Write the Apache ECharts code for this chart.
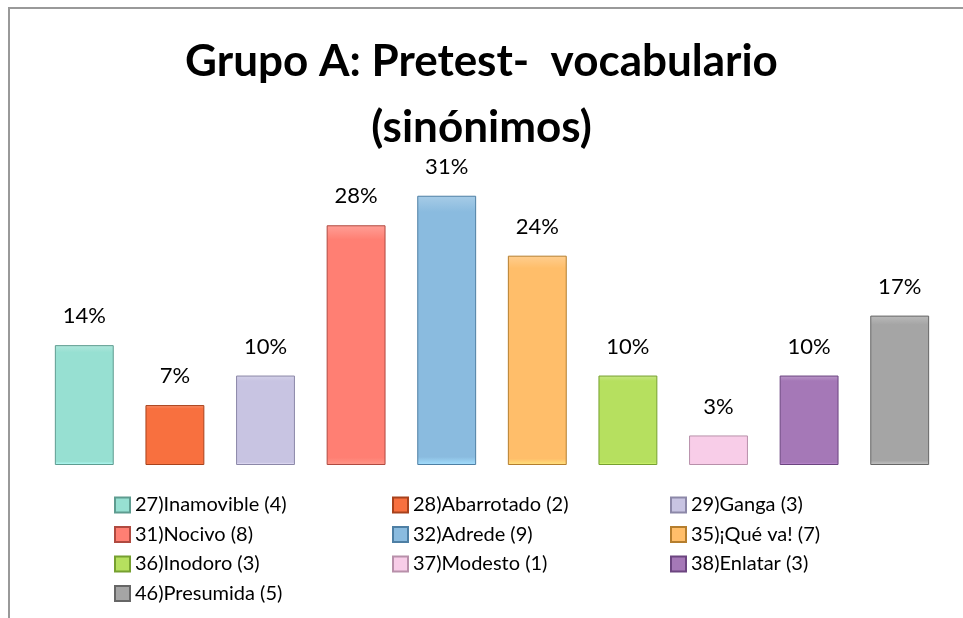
<!DOCTYPE html>
<html>
<head>
<meta charset="utf-8">
<script src="https://cdn.jsdelivr.net/npm/echarts@6/dist/echarts.min.js"></script>
<style>
  html, body { margin: 0; padding: 0; background: #fff; }
  #main { width: 963px; height: 618px; }
</style>
</head>
<body>
<div id="main"></div>
<script>
// categories (legend names) and percentage values
const items = [
  '27)Inamovible (4)', '28)Abarrotado (2)', '29)Ganga (3)',
  '31)Nocivo (8)', '32)Adrede (9)', '35)¡Qué va! (7)',
  '36)Inodoro (3)', '37)Modesto (1)', '38)Enlatar (3)',
  '46)Presumida (5)'
];
const percents = [13.8, 6.9, 10.3, 27.6, 31.0, 24.1, 10.3, 3.4, 10.3, 17.2];
const colors = ['#97E0D2', '#F8703F', '#C8C4E2', '#FF7F73', '#8ABBDF', '#FFBE6A', '#B6E05F', '#F8CDE8', '#A578B7', '#A5A5A5'];
const borders = ['#5E9C90', '#A8421C', '#8C88A8', '#B04A40', '#4E7FA4', '#B57E2E', '#76A030', '#B890AA', '#6C4580', '#666666'];

// legend columns, as laid out in the picture
const legendCols = [
  [items[0], items[3], items[6], items[9]],
  [items[1], items[4], items[7]],
  [items[2], items[5], items[8]]
];
const legendLeft = [109, 387, 665];

const chart = echarts.init(document.getElementById('main'));

const series = items.map((name, i) => ({
  name: name,
  type: 'bar',
  stack: 'one',
  barWidth: '65%',
  data: percents.map((v, j) => (j === i ? v : '-')),
  itemStyle: {
    color: {
      type: 'linear', x: 0, y: 0, x2: 0, y2: 1,
      colorStops: [
        { offset: 0, color: echarts.color.lift(colors[i], 0.25) },
        { offset: 0.06, color: colors[i] },
        { offset: 0.97, color: colors[i] },
        { offset: 1, color: echarts.color.lift(colors[i], -0.2) }
      ]
    },
    borderColor: borders[i],
    borderWidth: 1
  },
  label: {
    show: true,
    position: 'top',
    distance: 18,
    fontFamily: 'Lato',
    fontSize: 22,
    color: '#000',
    formatter: p => Math.round(p.value) + '%'
  }
}));

const option = {
  backgroundColor: '#fff',
  animation: false,
  title: {
    text: 'Grupo A: Pretest-  vocabulario\n(sinónimos)',
    left: 'center',
    top: 24,
    textStyle: {
      fontFamily: 'Lato',
      fontWeight: 'bold',
      fontSize: 44,
      lineHeight: 66,
      color: '#000'
    }
  },
  graphic: [{
    type: 'rect',
    shape: { x: 9, y: 8, width: 1000, height: 700 },
    style: { fill: 'none', stroke: '#999', lineWidth: 2 },
    silent: true
  }],
  legend: legendCols.map((col, k) => ({
    data: col,
    orient: 'vertical',
    left: legendLeft[k],
    top: 490,
    itemWidth: 15,
    itemHeight: 15,
    itemGap: 9.5,
    icon: 'rect',
    textStyle: { fontFamily: 'Lato', fontSize: 20, color: '#000', lineHeight: 20 }
  })),
  grid: { left: 39, right: 18, top: 161, bottom: 153 },
  xAxis: {
    type: 'category',
    data: items,
    axisLine: { show: false },
    axisTick: { show: false },
    axisLabel: { show: false }
  },
  yAxis: {
    type: 'value',
    min: 0,
    max: 35,
    show: false,
    splitLine: { show: false }
  },
  series: series
};

chart.setOption(option);
</script>
</body>
</html>
